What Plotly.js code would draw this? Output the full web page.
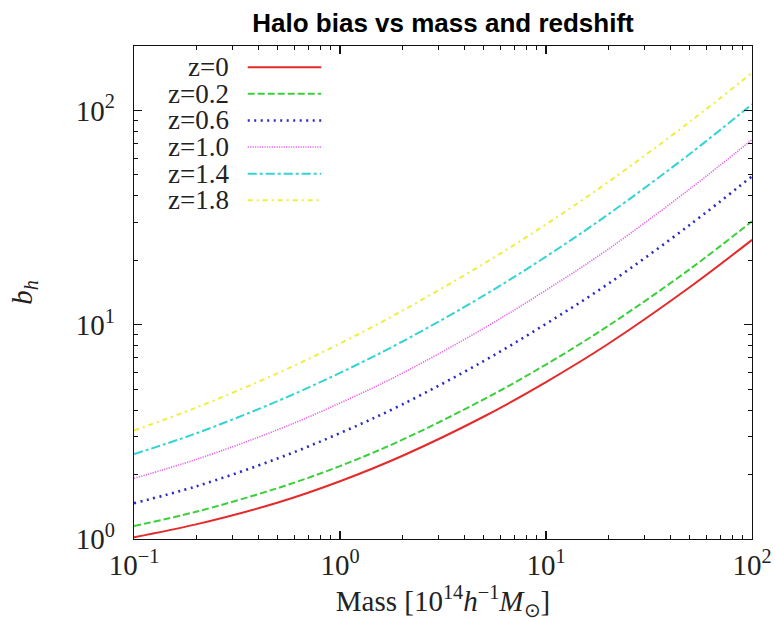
<!DOCTYPE html>
<html>
<head>
<meta charset="utf-8">
<script src="https://cdn.plot.ly/plotly-3.0.1.min.js"></script>
<style>html,body{margin:0;padding:0;background:#fff;}#chart{width:775px;height:621px;}</style>
</head>
<body>
<div id="chart"></div>
<script>
// ---- data ----
const massVals = [0.1, 0.2, 0.5, 1, 2, 5, 10, 20, 50, 100];
const bias_z0  = [1.02, 1.17, 1.48, 1.86, 2.44, 3.73, 5.40, 8.13, 15.0, 24.9];
const bias_z02 = [1.15, 1.34, 1.73, 2.19, 2.90, 4.49, 6.52, 9.87, 18.2, 30.4];
const bias_z06 = [1.47, 1.76, 2.38, 3.12, 4.24, 6.78, 10.1, 15.5, 29.3, 49.3];
const bias_z10 = [1.92, 2.35, 3.24, 4.31, 5.93, 9.64, 14.5, 22.5, 43.1, 73.1];
const bias_z14 = [2.49, 3.11, 4.41, 5.96, 8.33, 13.7, 20.8, 32.7, 62.8, 107];
const bias_z18 = [3.21, 4.10, 5.95, 8.17, 11.6, 19.3, 29.4, 46.3, 88.7, 150];
const seriesNames = ["z=0", "z=0.2", "z=0.6", "z=1.0", "z=1.4", "z=1.8"];
const xTickVals = [0.1, 1, 10, 100];
const xTickText = ["10<sup>\u22121</sup>", "10<sup>0</sup>", "10<sup>1</sup>", "10<sup>2</sup>"];
const yTickVals = [1, 10, 100];
const yTickText = ["10<sup>0</sup>", "10<sup>1</sup>", "10<sup>2</sup>"];

// ---- styles ----
const allSeries = [bias_z0, bias_z02, bias_z06, bias_z10, bias_z14, bias_z18];
const colors = ["#e42a2a", "#3ccf3c", "#2a2ac4", "#e862e8", "#35d3d3", "#eeee3e"];
const dashes = ["solid", "7px,3px", "2px,4.5px", "1.2px,1.2px", "9px,3px,3px,3px", "5px,4px,2px,4px"];
const widths = [2, 2, 2.6, 1.6, 2, 2];

const traces = allSeries.map((ys, i) => ({
  x: massVals, y: ys, type: "scatter", mode: "lines", name: seriesNames[i],
  line: {color: colors[i], dash: dashes[i], width: widths[i], shape: "spline", smoothing: 1},
  showlegend: false, hoverinfo: "skip"
}));

function minorVals(d0, d1) {
  const out = [];
  for (let d = d0; d <= d1; d++) for (let k = 2; k <= 9; k++) out.push(k * Math.pow(10, d));
  return out;
}

const serif = "Liberation Serif, Times New Roman, serif";

// custom legend: text on the left, line sample on the right
const annotations = [];
const shapes = [];
const legTop = 0.957, legStep = 0.054;
seriesNames.forEach((nm, i) => {
  const yy = legTop - i * legStep;
  annotations.push({xref: "paper", yref: "paper", x: 0.156, y: yy, xanchor: "right", yanchor: "middle",
    text: nm, showarrow: false, font: {family: serif, size: 27, color: "#222"}, borderpad: 0});
  shapes.push({type: "line", xref: "paper", yref: "paper", x0: 0.184, x1: 0.303, y0: yy, y1: yy,
    line: {color: colors[i], dash: dashes[i], width: widths[i]}});
});

const axisCommon = {
  type: "log", showgrid: false, zeroline: false, showline: true, linecolor: "#111", linewidth: 1.3,
  mirror: "allticks", ticks: "inside", ticklen: 8, tickwidth: 1.2, tickcolor: "#111",
  tickmode: "array", tickfont: {family: serif, size: 29, color: "#222"}
};

const layout = {
  width: 775, height: 621,
  margin: {l: 134, r: 23, t: 46, b: 82},
  paper_bgcolor: "#fff", plot_bgcolor: "#fff",
  title: {text: "<b>Halo bias vs mass and redshift</b>", font: {family: "Liberation Sans, Arial, sans-serif", size: 26, color: "#000"},
    x: 0.5, xref: "paper", y: 0.963, yref: "container", yanchor: "middle"},
  xaxis: Object.assign({}, axisCommon, {
    range: [-1, 2], tickvals: xTickVals, ticktext: xTickText,
    minor: {tickvals: minorVals(-1, 1), ticks: "inside", ticklen: 4, tickwidth: 1, tickcolor: "#111", showgrid: false},
    title: {text: "Mass [10<sup>14</sup><i>h</i><sup>\u22121</sup><i>M</i><sub>\u2299</sub>]", font: {family: serif, size: 29, color: "#222"}, standoff: 12}
  }),
  yaxis: Object.assign({}, axisCommon, {
    range: [0, 2.301], tickvals: yTickVals, ticktext: yTickText, ticklabelstandoff: 12,
    minor: {tickvals: minorVals(0, 1), ticks: "inside", ticklen: 4, tickwidth: 1, tickcolor: "#111", showgrid: false},
    title: {text: "<i>b<sub>h</sub></i>", font: {family: serif, size: 29, color: "#222"}, standoff: 34}
  }),
  annotations: annotations,
  shapes: shapes,
  showlegend: false
};

Plotly.newPlot("chart", traces, layout, {staticPlot: true, displayModeBar: false});
</script>
</body>
</html>
